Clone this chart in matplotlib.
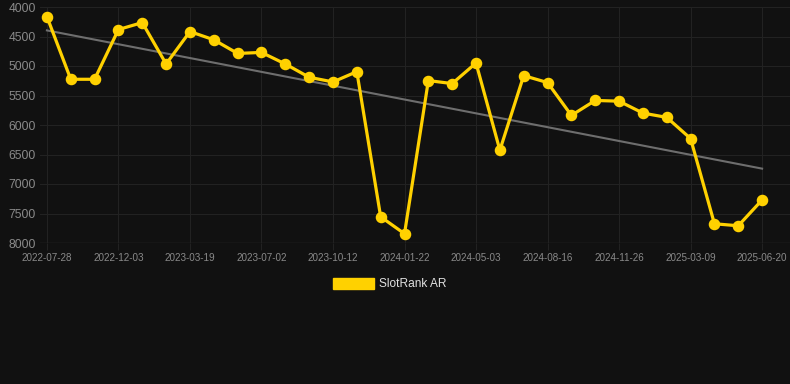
import matplotlib
matplotlib.use("Agg")
import matplotlib.pyplot as plt
from matplotlib.patches import Patch
import numpy as np

tick_labels = ["2022-07-28", "2022-12-03", "2023-03-19", "2023-07-02", "2023-10-12",
               "2024-01-22", "2024-05-03", "2024-08-16", "2024-11-26", "2025-03-09",
               "2025-06-20"]
rank = [4163, 5225, 5225, 4382, 4264, 4966, 4416, 4556, 4787, 4770,
        4966, 5191, 5270, 5096, 7556, 7843, 5247, 5298, 4949, 6427,
        5163, 5281, 5837, 5584, 5596, 5798, 5871, 6230, 7674, 7708, 7270]
series_name = "SlotRank AR"

BG = "#111111"
YEL = "#FFD100"
plt.rcParams['font.family'] = ['Liberation Sans', 'DejaVu Sans']

fig = plt.figure(figsize=(7.9, 3.84), dpi=100, facecolor=BG)
ax = fig.add_axes([40/790, 1-243/384, 750/790, 236/384], facecolor=BG)

x = np.arange(len(rank))
coef = np.polyfit(x, rank, 1)
ax.plot(x, np.polyval(coef, x), color="#6e6e6e", lw=1.5, zorder=2)
ax.plot(x, rank, color=YEL, lw=2.3, marker="o", ms=7.3, zorder=3)

ax.set_ylim(8000, 4000)
ax.set_xlim(-0.29, 31.17)
ax.set_yticks(np.arange(4000, 8001, 500))
ax.set_xticks(x[::3])
ax.set_xticklabels(tick_labels)
ax.grid(True, color="#222222", lw=0.8)
for s in ax.spines.values():
    s.set_visible(False)
ax.axhline(8000, color="#2e2e2e", lw=1, zorder=1)
ax.tick_params(axis="y", length=0, pad=3, labelsize=8.7, labelcolor="#8a8a8a")
ax.tick_params(axis="x", length=5, color="#222222", pad=2, labelsize=7.1, labelcolor="#8a8a8a")

fig.legend(handles=[Patch(facecolor=YEL, edgecolor=YEL)], labels=[series_name],
           loc="center", bbox_to_anchor=(390/790, 1-284/384), frameon=False,
           fontsize=8.6, labelcolor="#e0e0e0", handlelength=3.4, handleheight=1.05,
           handletextpad=0.45)

fig.savefig("out.png", dpi=100, facecolor=BG)
